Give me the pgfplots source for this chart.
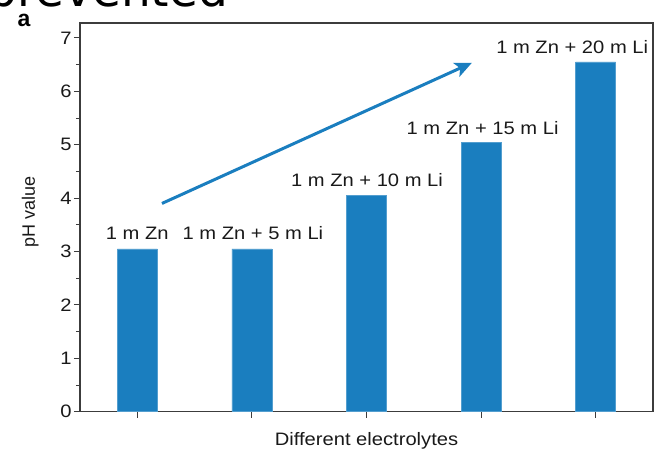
\documentclass[border=0pt]{standalone}
\usepackage{fontspec}
\setmainfont[FakeStretch=1.12]{Liberation Sans}
\newfontfamily\plainsans{Liberation Sans}
\newfontfamily\headfont{DejaVu Sans}
\usepackage{pgfplots}
\pgfplotsset{compat=1.18}
\usetikzlibrary{arrows.meta}

\definecolor{barblue}{RGB}{26,126,191}
\definecolor{axisgray}{RGB}{60,60,60}

\begin{document}
\begin{tikzpicture}[x=1pt,y=1pt]
\useasboundingbox (0,0) rectangle (654,450);
\clip (0,0) rectangle (654,450);

% heading running off the top edge
\begin{scope}
\clip (-10,442.5) rectangle (664,460);
\node[anchor=base west, inner sep=0pt, font=\headfont\fontsize{47}{50}\selectfont]
  at (-13,443.5) {prevented};
\end{scope}

% panel letter
\node[font=\plainsans\bfseries\fontsize{23}{25}\selectfont, inner sep=0pt, anchor=base] at (24,423) {a};

\begin{axis}[
  at={(80pt,38.3pt)}, anchor=south west,
  scale only axis, width=573pt, height=388.7pt,
  xmin=0.5, xmax=5.5, ymin=0, ymax=7.28,
  xtick={1,2,3,4,5}, xticklabels={},
  ytick={0,1,...,7}, minor y tick num=1,
  tick pos=left, tick align=outside,
  major tick length=6pt, minor tick length=4pt,
  xtick style={axisgray, line width=1pt},
  ytick style={axisgray, line width=1pt},
  axis line style={axisgray, line width=1.3pt},
  /pgf/number format/assume math mode=true,
  tick label style={font=\fontsize{18}{20}\selectfont, text=black!90},
  yticklabel style={xshift=1pt},
  xlabel={Different electrolytes},
  ylabel={\plainsans pH value},
  label style={font=\fontsize{18}{20}\selectfont, text=black!90},
  xlabel style={at={(axis description cs:0.5,0)}, anchor=center, yshift=-29pt},
  ylabel style={at={(axis description cs:-0.087,0.514)}, anchor=center},
  clip=false,
]
\addplot[ybar, bar width=40pt, fill=barblue, draw=barblue!75!white, line width=0.5pt]
  coordinates {(1,3.05) (2,3.05) (3,4.05) (4,5.05) (5,6.55)};

% bar labels
\begin{scope}[every node/.style={font=\fontsize{18}{20}\selectfont, text=black!90, anchor=base, inner sep=0pt}]
\node at (axis cs:1,3.05) [yshift=9pt] {1 m Zn};
\node at (axis cs:2,3.05) [yshift=9pt, xshift=1pt] {1 m Zn + 5 m Li};
\node at (axis cs:3,4.05) [yshift=9pt, xshift=0.5pt] {1 m Zn + 10 m Li};
\node at (axis cs:4,5.05) [yshift=8pt, xshift=1.5pt] {1 m Zn + 15 m Li};
\node at (axis cs:5,6.55) [yshift=8pt, xshift=-23.5pt] {1 m Zn + 20 m Li};
\end{scope}

% trend arrow
\draw[barblue, line width=3pt, -{Stealth[length=17pt, width=15pt, inset=4pt]}]
  (axis cs:1.215,3.90) -- (axis cs:3.92,6.535);
\end{axis}
\end{tikzpicture}
\end{document}
